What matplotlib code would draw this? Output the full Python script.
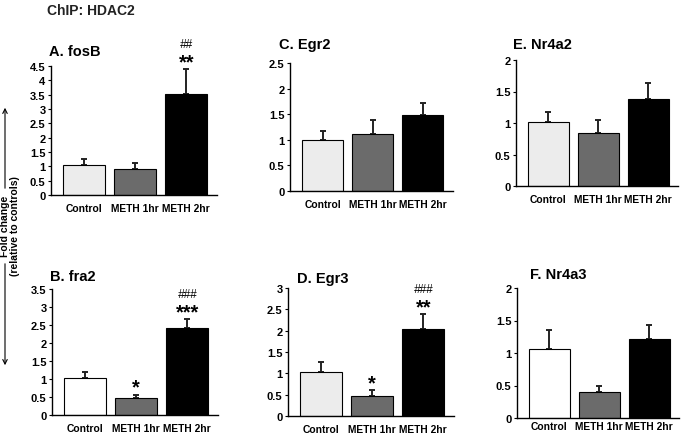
import numpy as np
import matplotlib.pyplot as plt
from matplotlib.patches import FancyArrowPatch

plt.rcParams['font.family'] = ['Liberation Sans', 'DejaVu Sans']

# Gruppen
groups = ['Control', 'METH 1hr', 'METH 2hr']

# Mittelwerte und Fehler je Gen
fosb_mean = [1.03, 0.90, 3.51]
fosb_err = [0.23, 0.21, 0.88]
fra2_mean = [1.02, 0.47, 2.43]
fra2_err = [0.17, 0.09, 0.23]
egr2_mean = [0.99, 1.11, 1.48]
egr2_err = [0.19, 0.27, 0.23]
egr3_mean = [1.04, 0.48, 2.03]
egr3_err = [0.22, 0.12, 0.36]
nr4a2_mean = [1.01, 0.84, 1.38]
nr4a2_err = [0.17, 0.21, 0.25]
nr4a3_mean = [1.06, 0.40, 1.21]
nr4a3_err = [0.30, 0.10, 0.22]

# Signifikanz
fosb_star = ['', '', '**']
fosb_hash = ['', '', '##']
fra2_star = ['', '*', '***']
fra2_hash = ['', '', '###']
egr3_star = ['', '*', '**']
egr3_hash = ['', '', '###']
none3 = ['', '', '']

W, H = 685, 435

def px(x, y):
    return x / W, 1 - y / H

# titel, mean, err, ymax, sterne, rauten, farbe control, axes (left, top, w, h px), titelpos, label pad
panels = [
    ('A. fosB', fosb_mean, fosb_err, 4.5, fosb_star, fosb_hash, '#ececec', (51, 67, 166, 129), (49, 52), 6),
    ('B. fra2', fra2_mean, fra2_err, 3.5, fra2_star, fra2_hash, 'white', (52, 290, 166, 126), (50, 277), 6),
    ('C. Egr2', egr2_mean, egr2_err, 2.5, none3, none3, '#ececec', (290, 64, 163, 128), (279, 45), 6),
    ('D. Egr3', egr3_mean, egr3_err, 3.0, egr3_star, egr3_hash, '#ececec', (288, 289, 166, 128), (297, 279), 6),
    ('E. Nr4a2', nr4a2_mean, nr4a2_err, 2.0, none3, none3, '#ececec', (516, 61, 162, 126), (513, 45), 6),
    ('F. Nr4a3', nr4a3_mean, nr4a3_err, 2.0, none3, none3, 'white', (517, 289, 162, 130), (530, 275), 2.5),
]

fig = plt.figure(figsize=(6.85, 4.35), dpi=100)

x = np.arange(len(groups))
for title, mean, err, ymax, stars, hashes, c0, (l, t, w, h), (tx, ty), lpad in panels:
    ax = fig.add_axes([l / W, 1 - (t + h) / H, w / W, h / H])
    ax.bar(x, mean, width=0.82, color=[c0, '#6b6b6b', 'black'],
           edgecolor='black', linewidth=0.8, zorder=2)
    ax.errorbar(x, mean, yerr=[np.zeros(3), err], fmt='none', ecolor='#222222',
                elinewidth=1.4, capsize=2.5, capthick=1.4, zorder=1)
    ax.set_xlim(-0.65, 2.6)
    ax.set_ylim(0, ymax)
    ticks = np.arange(0, ymax + 0.01, 0.5)
    ax.set_yticks(ticks)
    ax.set_yticklabels(['%g' % v for v in ticks], fontsize=8, fontweight='bold')
    ax.set_xticks(x)
    ax.set_xticklabels(groups, fontsize=7.4, fontweight='bold')
    ax.tick_params(axis='x', length=0, pad=lpad)
    ax.tick_params(axis='y', length=2.5, width=0.8, pad=1.5)
    for s in ['top', 'right']:
        ax.spines[s].set_visible(False)
    for s in ['left', 'bottom']:
        ax.spines[s].set_linewidth(1.0)
    for i in range(3):
        top = mean[i] + err[i]
        if stars[i]:
            ax.annotate(stars[i], (x[i], top), xytext=(0, 1.5), textcoords='offset points',
                        ha='center', va='baseline', fontsize=14.5, fontweight='bold',
                        annotation_clip=False)
        if hashes[i]:
            ax.annotate(hashes[i], (x[i], top), xytext=(0, 16), textcoords='offset points',
                        ha='center', va='baseline', fontsize=8.5, style='italic',
                        annotation_clip=False)
    fig.text(*px(tx, ty), title, fontsize=10.5, fontweight='bold', ha='left', va='center')

fig.text(*px(47, 11), 'ChIP: HDAC2', fontsize=10, fontweight='bold', ha='left', va='center',
         color='#222222')

# y-Achsenbeschriftung mit Pfeilen
fig.text(*px(10, 226), 'Fold change\n(relative to controls)', rotation=90,
         fontsize=7.5, fontweight='bold', ha='center', va='center', linespacing=1.1)
fig.add_artist(FancyArrowPatch(px(5, 192), px(5, 106), transform=fig.transFigure,
                               arrowstyle='->', mutation_scale=8, linewidth=0.8, color='black'))
fig.add_artist(FancyArrowPatch(px(5, 262), px(5, 369), transform=fig.transFigure,
                               arrowstyle='->', mutation_scale=8, linewidth=0.8, color='black'))

plt.savefig('out.png', dpi=100)
